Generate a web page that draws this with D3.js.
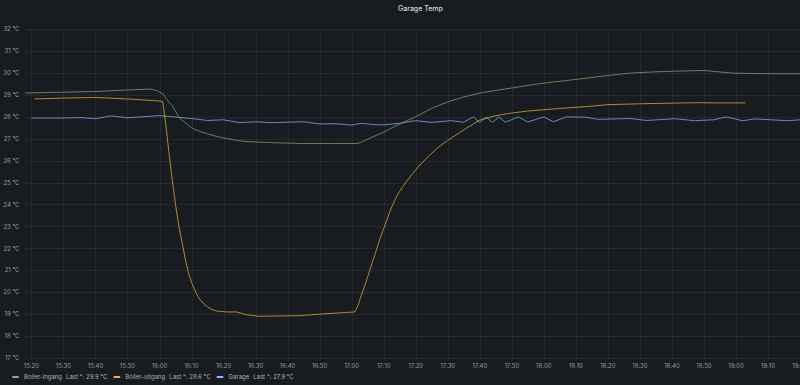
<!DOCTYPE html>
<html>
<head>
<meta charset="utf-8">
<script src="https://cdn.jsdelivr.net/npm/d3@7"></script>
<style>
  html, body { margin: 0; padding: 0; background: #181b1f; }
  body { width: 800px; height: 385px; overflow: hidden; font-family: Inter, "Noto Sans", sans-serif; }
  svg text { font-family: Inter, "Noto Sans", sans-serif; }
</style>
</head>
<body>
<div id="chart"></div>
<script>
// series names + legend
const seriesNames = ["Boiler-ingang", "Boiler-uitgang", "Garage"];
const seriesColors = ["#7EB26D", "#EAB839", "#8AB8FF"];
const lastLabels = ["29.9 °C", "28.6 °C", "27.9 °C"];

// Boiler-ingang (time, °C)
const ingangTimes = ["15:18","15:30","15:40","15:50","15:57","15:59","16:01","16:02","16:03","16:04","16:05","16:06","16:07","16:08","16:10","16:12","16:15","16:19","16:23","16:27","16:35","16:44","16:55","17:02","17:10","17:15","17:20","17:25","17:30","17:35","17:40","17:45","17:50","17:55","18:01","18:07","18:14","18:20","18:27","18:35","18:42","18:50","18:55","18:59","19:05","19:12","19:20"];
const ingangValues = [29.08,29.12,29.15,29.22,29.26,29.2,29.05,28.85,28.65,28.5,28.25,28.0,27.85,27.73,27.5,27.36,27.22,27.06,26.95,26.87,26.82,26.78,26.78,26.78,27.3,27.67,28.0,28.38,28.68,28.9,29.08,29.2,29.31,29.43,29.55,29.65,29.77,29.88,29.99,30.05,30.08,30.11,30.04,29.99,29.97,29.96,29.96];

// Boiler-uitgang (time, °C)
const uitgangTimes = ["15:21","15:30","15:40","15:50","15:59","16:01","16:02","16:03","16:04","16:05","16:06","16:07","16:08","16:09","16:10","16:11","16:12","16:13","16:14","16:15","16:16","16:17","16:18","16:21","16:24","16:27","16:31","16:38","16:44","16:50","17:01","17:02","17:03","17:04","17:05","17:06","17:07","17:08","17:09","17:10","17:11","17:12","17:13","17:14","17:15","17:16","17:17","17:19","17:21","17:24","17:27","17:30","17:35","17:40","17:45","17:50","17:55","18:00","18:07","18:14","18:20","18:30","18:40","18:49","18:55","19:03"];
const uitgangValues = [28.81,28.85,28.88,28.81,28.73,28.7,27.6,26.3,25.1,24.0,23.05,22.3,21.55,20.9,20.45,20.1,19.8,19.6,19.45,19.33,19.24,19.18,19.14,19.1,19.1,18.98,18.9,18.92,18.93,19.0,19.1,19.4,19.85,20.25,20.7,21.15,21.6,22.05,22.5,22.9,23.3,23.7,24.05,24.35,24.6,24.82,25.02,25.4,25.75,26.2,26.6,26.92,27.4,27.85,28.05,28.17,28.26,28.32,28.4,28.47,28.55,28.59,28.62,28.64,28.63,28.63];

// Garage (time, °C)
const garageTimes = ["15:20","15:30","15:35","15:40","15:45","15:50","16:00","16:10","16:15","16:20","16:25","16:30","16:35","16:40","16:45","16:50","16:55","17:00","17:03","17:07","17:10","17:15","17:20","17:25","17:31","17:35","17:38","17:40","17:42","17:44","17:46","17:48","17:52","17:55","18:00","18:03","18:07","18:13","18:17","18:27","18:32","18:41","18:47","18:53","18:57","19:02","19:06","19:16","19:20"];
const garageValues = [27.94,27.94,27.96,27.91,28.04,27.95,28.05,27.92,27.83,27.86,27.73,27.77,27.73,27.75,27.77,27.67,27.68,27.62,27.7,27.64,27.63,27.7,27.82,27.74,27.82,27.75,27.99,27.74,27.98,27.74,27.99,27.75,27.99,27.76,27.99,27.77,27.99,27.98,27.88,27.92,27.83,27.91,27.82,27.86,27.99,27.82,27.9,27.82,27.86];

// axis ticks
const yTicks = [17,18,19,20,21,22,23,24,25,26,27,28,29,30,31,32];
const xStart = "15:18", xEnd = "19:20";

const parseTime = d3.timeParse("%H:%M");
const W = 800, H = 385;
const margin = { top: 29, right: 0, bottom: 27, left: 25 };

const svg = d3.select("#chart").append("svg")
    .attr("width", W).attr("height", H);

svg.append("rect").attr("width", W).attr("height", H).attr("fill", "#181b1f");

const x = d3.scaleTime()
    .domain([parseTime(xStart), parseTime(xEnd)])
    .range([margin.left, W - margin.right]);
const y = d3.scaleLinear()
    .domain([17, 32])
    .range([H - margin.bottom, margin.top]);

// title
svg.append("text")
    .attr("x", 398).attr("y", 11)
    .attr("font-size", 7).attr("font-weight", 500)
    .attr("fill", "#d8d9de")
    .text("Garage Temp");

// grid
const xTickVals = d3.timeMinute.every(10).range(parseTime("15:20"), d3.timeMinute.offset(parseTime(xEnd), 1));
svg.append("g").selectAll("line").data(yTicks).join("line")
    .attr("x1", margin.left).attr("x2", W)
    .attr("y1", d => Math.round(y(d)) + 0.5).attr("y2", d => Math.round(y(d)) + 0.5)
    .attr("stroke", "rgba(204,204,220,0.07)");
svg.append("g").selectAll("line").data(xTickVals).join("line")
    .attr("x1", d => Math.round(x(d)) + 0.5).attr("x2", d => Math.round(x(d)) + 0.5)
    .attr("y1", margin.top).attr("y2", H - margin.bottom)
    .attr("stroke", "rgba(204,204,220,0.07)");

// y axis labels
svg.append("g").selectAll("text").data(yTicks).join("text")
    .attr("x", 19.5).attr("y", d => y(d) + 2.2)
    .attr("text-anchor", "end")
    .attr("font-size", 6)
    .attr("fill", "rgba(204,204,220,0.72)")
    .text(d => `${d} °C`);

// x axis labels (last one runs off the edge, as in the panel)
const fmt = d3.timeFormat("%H:%M");
svg.append("g").selectAll("text").data(xTickVals).join("text")
    .attr("x", d => x(d)).attr("y", 368)
    .attr("text-anchor", "middle")
    .attr("font-size", 6)
    .attr("fill", "rgba(204,204,220,0.72)")
    .text(d => fmt(d));

// lines
const series = [
    { times: ingangTimes, values: ingangValues },
    { times: uitgangTimes, values: uitgangValues },
    { times: garageTimes, values: garageValues }
];
const line = d3.line()
    .x(d => x(d.t))
    .y(d => y(d.v));

// draw garage first so the boilers sit on top
[2, 0, 1].forEach(i => {
    const pts = series[i].times.map((t, j) => ({ t: parseTime(t), v: series[i].values[j] }));
    svg.append("path")
        .datum(pts)
        .attr("fill", "none")
        .attr("stroke", seriesColors[i])
        .attr("stroke-opacity", 0.7)
        .attr("stroke-width", 1)
        .attr("stroke-linejoin", "round")
        .attr("d", line);
});

// legend
const legend = svg.append("g");
let lx = 12;
seriesNames.forEach((name, i) => {
    legend.append("rect")
        .attr("x", lx).attr("y", 376)
        .attr("width", 7).attr("height", 2).attr("rx", 1)
        .attr("fill", seriesColors[i]);
    const t1 = legend.append("text")
        .attr("x", lx + 12).attr("y", 379)
        .attr("font-size", 6)
        .attr("fill", "rgba(204,204,220,0.85)")
        .text(name);
    const w1 = t1.node().getComputedTextLength();
    const t2 = legend.append("text")
        .attr("x", lx + 12 + w1 + 4).attr("y", 379)
        .attr("font-size", 6)
        .attr("fill", "rgba(204,204,220,0.85)")
        .text(`Last *: ${lastLabels[i]}`);
    const w2 = t2.node().getComputedTextLength();
    lx = lx + 12 + w1 + 4 + w2 + 6;
});
</script>
</body>
</html>
